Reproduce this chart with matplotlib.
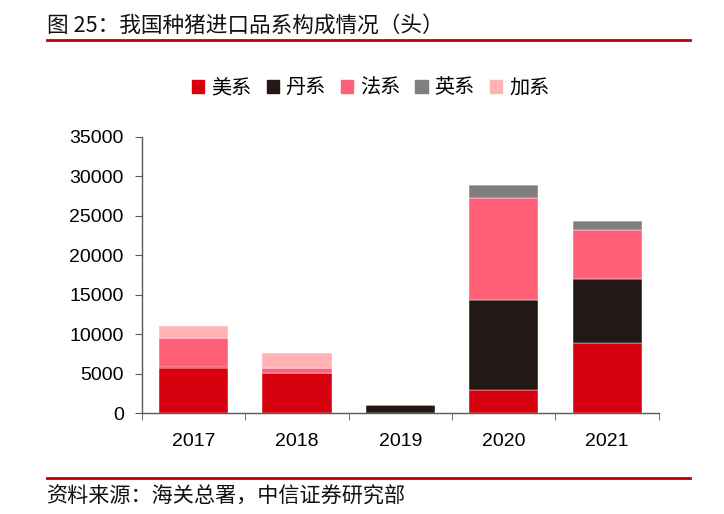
import numpy as np
import matplotlib.pyplot as plt
from matplotlib.lines import Line2D

plt.rcParams['font.family'] = ['Liberation Sans', 'Noto Sans CJK SC', 'DejaVu Sans']

years = ['2017', '2018', '2019', '2020', '2021']
series_names = ['美系', '丹系', '法系', '英系', '加系']
mei = [5700, 5100, 0, 3000, 8900]
dan = [150, 0, 1000, 11300, 8150]
fa = [3700, 650, 0, 13000, 6200]
ying = [0, 0, 0, 1600, 1050]
jia = [1500, 1850, 0, 0, 0]
colors = ['#D7000F', '#231815', '#FF6077', '#7F7F7F', '#FFB3B5']

fig = plt.figure(figsize=(7.24, 5.14), dpi=100)
ax = fig.add_axes([0.196, 0.196, 0.714, 0.538])

x = np.arange(len(years))
bottom = np.zeros(len(years))
for name, vals, c in zip(series_names, [mei, dan, fa, ying, jia], colors):
    ax.bar(x, vals, 0.67, bottom=bottom, color=c, label=name,
           edgecolor='white', linewidth=0.3)
    bottom += np.array(vals)

ax.set_xlim(-0.5, 4.5)
ax.set_ylim(0, 35000)
ax.set_yticks(np.arange(0, 35001, 5000))
ax.set_xticks(x)
ax.set_xticklabels(years)
ax.set_xticks(np.arange(-0.5, 5, 1), minor=True)
ax.tick_params(axis='x', which='major', length=0, pad=14, labelsize=14)
ax.tick_params(axis='x', which='minor', length=5, direction='out', color='#595959')
ax.tick_params(axis='y', length=5, direction='out', color='#595959', labelsize=14, pad=8)
for s in ['top', 'right']:
    ax.spines[s].set_visible(False)
for s in ['left', 'bottom']:
    ax.spines[s].set_color('#595959')
    ax.spines[s].set_linewidth(1)

handles = [plt.Rectangle((0, 0), 1, 1, color=c) for c in colors]
fig.legend(handles, series_names, loc='center', bbox_to_anchor=(0.512, 0.829),
           ncol=5, frameon=False, fontsize=14.5, handlelength=0.6, handleheight=0.6,
           handletextpad=0.35, columnspacing=0.75)

# title and source with red rules
fig.text(0.065, 0.951, '图 25：我国种猪进口品系构成情况（头）', fontsize=15.6,
         family=['Noto Sans CJK SC'], va='center', color='#111111')
fig.add_artist(Line2D([0.065, 0.953], [0.922, 0.922], color='#C00000', lw=2))
fig.add_artist(Line2D([0.065, 0.953], [0.070, 0.070], color='#C00000', lw=2))
fig.text(0.065, 0.033, '资料来源：海关总署，中信证券研究部', fontsize=15.2,
         family=['Noto Sans CJK SC'], va='center', color='#111111')

fig.savefig('out.png', dpi=100)
